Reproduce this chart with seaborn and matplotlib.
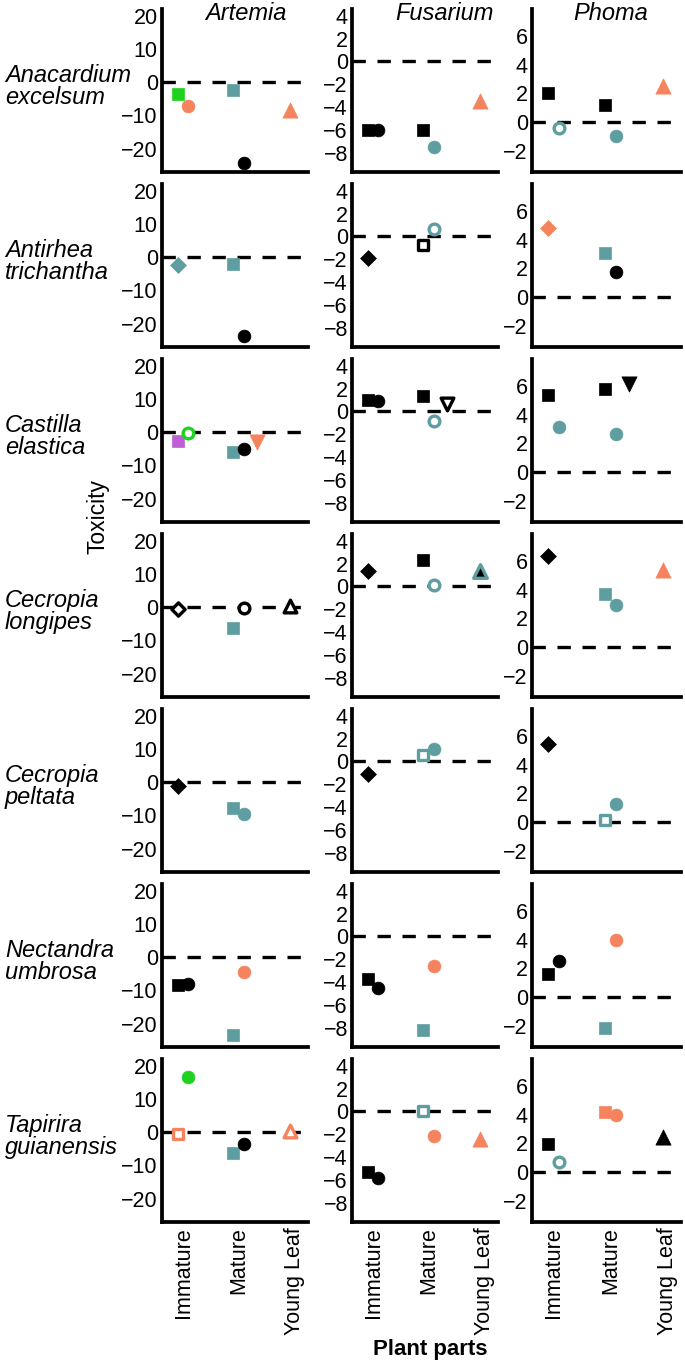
import pandas as pd
import matplotlib.pyplot as plt
import seaborn as sns

sns.set_style('white')
plt.rcParams['font.family'] = ['Liberation Sans', 'DejaVu Sans']
plt.rcParams['text.color'] = 'black'

plants = ['Anacardium\nexcelsum', 'Antirhea\ntrichantha', 'Castilla\nelastica',
          'Cecropia\nlongipes', 'Cecropia\npeltata', 'Nectandra\numbrosa',
          'Tapirira\nguianensis']
organisms = ['Artemia', 'Fusarium', 'Phoma']
parts = ['Immature', 'Mature', 'Young Leaf']

# (organism, part, shape, colour, fill, toxicity) for each plant
anacardium = [
    ('Artemia', 'Immature', 'square', 'green', 'solid', -3.5),
    ('Artemia', 'Immature', 'circle', 'orange', 'solid', -7.2),
    ('Artemia', 'Mature', 'square', 'teal', 'solid', -2.3),
    ('Artemia', 'Mature', 'circle', 'black', 'solid', -24.2),
    ('Artemia', 'Young Leaf', 'triangle', 'orange', 'solid', -8.5),
    ('Fusarium', 'Immature', 'square', 'black', 'solid', -6.0),
    ('Fusarium', 'Immature', 'circle', 'black', 'solid', -6.0),
    ('Fusarium', 'Mature', 'square', 'black', 'solid', -6.0),
    ('Fusarium', 'Mature', 'circle', 'teal', 'solid', -7.5),
    ('Fusarium', 'Young Leaf', 'triangle', 'orange', 'solid', -3.5),
    ('Phoma', 'Immature', 'square', 'black', 'solid', 2.0),
    ('Phoma', 'Immature', 'circle', 'teal', 'open', -0.45),
    ('Phoma', 'Mature', 'square', 'black', 'solid', 1.2),
    ('Phoma', 'Mature', 'circle', 'teal', 'solid', -1.0),
    ('Phoma', 'Young Leaf', 'triangle', 'orange', 'solid', 2.5),
]
antirhea = [
    ('Artemia', 'Immature', 'diamond', 'teal', 'solid', -2.4),
    ('Artemia', 'Mature', 'square', 'teal', 'solid', -2.1),
    ('Artemia', 'Mature', 'circle', 'black', 'solid', -23.7),
    ('Fusarium', 'Immature', 'diamond', 'black', 'solid', -1.85),
    ('Fusarium', 'Mature', 'square', 'black', 'open', -0.75),
    ('Fusarium', 'Mature', 'circle', 'teal', 'open', 0.67),
    ('Phoma', 'Immature', 'diamond', 'orange', 'solid', 4.85),
    ('Phoma', 'Mature', 'square', 'teal', 'solid', 3.07),
    ('Phoma', 'Mature', 'circle', 'black', 'solid', 1.77),
]
castilla = [
    ('Artemia', 'Immature', 'square', 'purple', 'solid', -2.5),
    ('Artemia', 'Immature', 'circle', 'green', 'open', -0.3),
    ('Artemia', 'Mature', 'square', 'teal', 'solid', -5.9),
    ('Artemia', 'Mature', 'circle', 'black', 'solid', -5.1),
    ('Artemia', 'Mature', 'down', 'orange', 'solid', -2.9),
    ('Fusarium', 'Immature', 'square', 'black', 'solid', 1.03),
    ('Fusarium', 'Immature', 'circle', 'black', 'solid', 0.94),
    ('Fusarium', 'Mature', 'square', 'black', 'solid', 1.32),
    ('Fusarium', 'Mature', 'circle', 'teal', 'open', -0.8),
    ('Fusarium', 'Mature', 'down', 'black', 'open', 0.62),
    ('Phoma', 'Immature', 'square', 'black', 'solid', 5.35),
    ('Phoma', 'Immature', 'circle', 'teal', 'solid', 3.14),
    ('Phoma', 'Mature', 'square', 'black', 'solid', 5.83),
    ('Phoma', 'Mature', 'circle', 'teal', 'solid', 2.64),
    ('Phoma', 'Mature', 'down', 'black', 'solid', 6.14),
]
cecropia_longipes = [
    ('Artemia', 'Immature', 'diamond', 'black', 'open', -0.4),
    ('Artemia', 'Mature', 'square', 'teal', 'solid', -6.4),
    ('Artemia', 'Mature', 'circle', 'black', 'open', -0.3),
    ('Artemia', 'Young Leaf', 'triangle', 'black', 'open', 0.4),
    ('Fusarium', 'Immature', 'diamond', 'black', 'solid', 1.34),
    ('Fusarium', 'Mature', 'square', 'black', 'solid', 2.3),
    ('Fusarium', 'Mature', 'circle', 'teal', 'open', 0.12),
    ('Fusarium', 'Young Leaf', 'triangle', 'teal', 'dark', 1.34),
    ('Phoma', 'Immature', 'diamond', 'black', 'solid', 6.35),
    ('Phoma', 'Mature', 'square', 'teal', 'solid', 3.7),
    ('Phoma', 'Mature', 'circle', 'teal', 'solid', 2.94),
    ('Phoma', 'Young Leaf', 'triangle', 'orange', 'solid', 5.36),
]
cecropia_peltata = [
    ('Artemia', 'Immature', 'diamond', 'black', 'solid', -1.2),
    ('Artemia', 'Mature', 'square', 'teal', 'solid', -7.9),
    ('Artemia', 'Mature', 'circle', 'teal', 'solid', -9.5),
    ('Fusarium', 'Immature', 'diamond', 'black', 'solid', -1.09),
    ('Fusarium', 'Mature', 'square', 'teal', 'open', 0.57),
    ('Fusarium', 'Mature', 'circle', 'teal', 'solid', 1.09),
    ('Phoma', 'Immature', 'diamond', 'black', 'solid', 5.47),
    ('Phoma', 'Mature', 'square', 'teal', 'open', 0.16),
    ('Phoma', 'Mature', 'circle', 'teal', 'solid', 1.27),
]
nectandra = [
    ('Artemia', 'Immature', 'square', 'black', 'solid', -8.3),
    ('Artemia', 'Immature', 'circle', 'black', 'solid', -8.2),
    ('Artemia', 'Mature', 'square', 'teal', 'solid', -23.5),
    ('Artemia', 'Mature', 'circle', 'orange', 'solid', -4.5),
    ('Fusarium', 'Immature', 'square', 'black', 'solid', -3.7),
    ('Fusarium', 'Immature', 'circle', 'black', 'solid', -4.5),
    ('Fusarium', 'Mature', 'square', 'teal', 'solid', -8.2),
    ('Fusarium', 'Mature', 'circle', 'orange', 'solid', -2.55),
    ('Phoma', 'Immature', 'square', 'black', 'solid', 1.62),
    ('Phoma', 'Immature', 'circle', 'black', 'solid', 2.52),
    ('Phoma', 'Mature', 'square', 'teal', 'solid', -2.2),
    ('Phoma', 'Mature', 'circle', 'orange', 'solid', 4.0),
]
tapirira = [
    ('Artemia', 'Immature', 'square', 'orange', 'open', -0.5),
    ('Artemia', 'Immature', 'circle', 'green', 'solid', 16.5),
    ('Artemia', 'Mature', 'square', 'teal', 'solid', -6.4),
    ('Artemia', 'Mature', 'circle', 'black', 'solid', -3.5),
    ('Artemia', 'Young Leaf', 'triangle', 'orange', 'open', 0.3),
    ('Fusarium', 'Immature', 'square', 'black', 'solid', -5.3),
    ('Fusarium', 'Immature', 'circle', 'black', 'solid', -5.85),
    ('Fusarium', 'Mature', 'square', 'teal', 'open', 0.0),
    ('Fusarium', 'Mature', 'circle', 'orange', 'solid', -2.15),
    ('Fusarium', 'Young Leaf', 'triangle', 'orange', 'solid', -2.4),
    ('Phoma', 'Immature', 'square', 'black', 'solid', 1.95),
    ('Phoma', 'Immature', 'circle', 'teal', 'open', 0.7),
    ('Phoma', 'Mature', 'square', 'orange', 'solid', 4.2),
    ('Phoma', 'Mature', 'circle', 'orange', 'solid', 4.0),
    ('Phoma', 'Young Leaf', 'triangle', 'black', 'solid', 2.45),
]
by_plant = [anacardium, antirhea, castilla, cecropia_longipes,
            cecropia_peltata, nectandra, tapirira]

rows = []
for i, recs in enumerate(by_plant):
    for rec in recs:
        rows.append((i,) + rec)
df = pd.DataFrame(rows, columns=['plant', 'organism', 'part', 'shape',
                                 'colour', 'fill', 'toxicity'])

palette = {'black': '#000000', 'teal': '#5F9EA0', 'orange': '#F5845E',
           'green': '#1FD21F', 'purple': '#BF5FD6'}
markers = {'square': 's', 'circle': 'o', 'triangle': '^', 'down': 'v', 'diamond': 'D'}
sizes = {'square': 75, 'circle': 85, 'triangle': 120, 'down': 120, 'diamond': 65}
dodge = {'square': -0.1, 'diamond': -0.1, 'triangle': -0.08, 'circle': 0.09, 'down': 0.32}
df['x'] = df['part'].map({p: i for i, p in enumerate(parts)}) + df['shape'].map(dodge)

ylims = {'Artemia': (-27, 22), 'Fusarium': (-9.7, 4.6), 'Phoma': (-3.5, 7.9)}
yticks = {'Artemia': [-20, -10, 0, 10, 20], 'Fusarium': [-8, -6, -4, -2, 0, 2, 4],
          'Phoma': [-2, 0, 2, 4, 6]}
title_x = {'Artemia': 0.575, 'Fusarium': 0.63, 'Phoma': 0.53}

W, H = 685, 1366
col_left = [162, 352, 532]
col_width = [146, 146, 149]
top0, pitch, ph = 9, 175, 163

fig = plt.figure(figsize=(W / 100, H / 100), dpi=100)

for r in range(len(plants)):
    top = top0 + r * pitch
    for c, org in enumerate(organisms):
        ax = fig.add_axes([col_left[c] / W, 1 - (top + ph) / H, col_width[c] / W, ph / H])
        ax.axhline(0, color='black', lw=2.4, dashes=(4, 3.5), zorder=1)
        panel = df[(df['plant'] == r) & (df['organism'] == org)]
        for _, p in panel.iterrows():
            col = palette[p['colour']]
            if p['fill'] == 'open':
                face, edge, lw, s = 'white', col, 2.4, sizes[p['shape']] * 0.7
            elif p['fill'] == 'dark':
                face, edge, lw, s = 'black', col, 2.4, sizes[p['shape']] * 0.8
            else:
                face, edge, lw, s = col, col, 0.5, sizes[p['shape']]
            sns.scatterplot(x=[p['x']], y=[p['toxicity']], ax=ax, marker=markers[p['shape']],
                            s=s, color=face, edgecolor=edge, linewidth=lw,
                            legend=False, zorder=3, clip_on=False)
        ax.set_xlim(-0.38, 2.24)
        ax.set_ylim(*ylims[org])
        ax.set_yticks(yticks[org])
        ax.set_xticks([0, 1, 2])
        if r == len(plants) - 1:
            ax.set_xticklabels(parts, rotation=90, fontsize=15.5)
        else:
            ax.set_xticklabels([])
        ax.set_xlabel('')
        ax.set_ylabel('')
        ax.tick_params(axis='y', direction='in', length=8, width=2.3, labelsize=15.5,
                       pad=3, colors='black')
        ax.tick_params(axis='x', length=0, pad=4, colors='black')
        sns.despine(ax=ax)
        for side in ['left', 'bottom']:
            ax.spines[side].set_linewidth(2.7)
            ax.spines[side].set_color('black')
        if r == 0:
            ax.text(title_x[org], 0.975, org, transform=ax.transAxes, ha='center',
                    va='center', style='italic', fontsize=17, color='black')
    fig.text(5 / W, 1 - (top + ph / 2 - 4) / H, plants[r], ha='left', va='center',
             style='italic', fontsize=17, linespacing=0.92, color='black')

fig.text(98 / W, 1 - 517 / H, 'Toxicity', rotation=90, ha='center', va='center',
         fontsize=16.5, color='black')
fig.text(430 / W, 1 - 1350 / H, 'Plant parts', ha='center', va='center',
         fontsize=16, fontweight='bold', color='black')

fig.savefig('out.png', dpi=100)
plt.close(fig)
